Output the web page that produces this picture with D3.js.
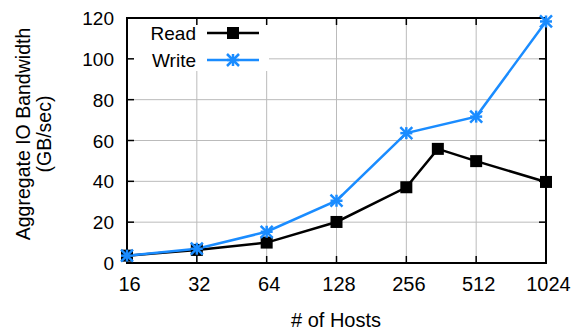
<!DOCTYPE html>
<html><head><meta charset="utf-8">
<script src="https://cdn.jsdelivr.net/npm/d3@7"></script>
<style>body{margin:0;background:#fff}svg{display:block;font-family:"Liberation Sans",Arial,sans-serif}</style>
</head><body><svg id="c" width="574" height="331"></svg>
<script>
const hosts = [16, 32, 64, 128, 256, 512, 1024];
const readHosts = [16, 32, 64, 128, 256, 350, 512, 1024];
const readValues = [3.6, 6.4, 10.0, 20.1, 37.1, 55.9, 49.9, 39.7];
const writeHosts = [16, 32, 64, 128, 256, 512, 1024];
const writeValues = [3.6, 7.0, 15.3, 30.5, 63.6, 71.7, 118.3];
const yTicks = [0, 20, 40, 60, 80, 100, 120];
const seriesNames = ["Read", "Write"];

const svg = d3.select("#c");
const L = 127, R = 546, T = 18, B = 263;
const x = d3.scaleLog().base(2).domain([16, 1024]).range([L, R]);
const y = d3.scaleLinear().domain([0, 120]).range([B, T]);
const blue = "#1a8cff";
const FS = 19;

// grid
const g = svg.append("g");
g.selectAll(".vg").data(hosts.slice(1, -1)).enter().append("line")
  .attr("x1", d => x(d)).attr("x2", d => x(d)).attr("y1", T).attr("y2", B)
  .attr("stroke", "#bbb").attr("stroke-width", 1);
g.selectAll(".hg").data(yTicks.slice(1, -1)).enter().append("line")
  .attr("x1", L).attr("x2", R).attr("y1", d => y(d)).attr("y2", d => y(d))
  .attr("stroke", "#bbb").attr("stroke-width", 1);

// legend background
svg.append("rect").attr("x", L + 1).attr("y", T + 1).attr("width", 141).attr("height", 52).attr("fill", "#fff");

// ticks inward
const tk = svg.append("g").attr("stroke", "#000").attr("stroke-width", 1.5);
hosts.forEach(h => {
  tk.append("line").attr("x1", x(h)).attr("x2", x(h)).attr("y1", B).attr("y2", B - 7);
  tk.append("line").attr("x1", x(h)).attr("x2", x(h)).attr("y1", T).attr("y2", T + 7);
});
yTicks.forEach(v => {
  tk.append("line").attr("x1", L).attr("x2", L + 7).attr("y1", y(v)).attr("y2", y(v));
  tk.append("line").attr("x1", R).attr("x2", R - 7).attr("y1", y(v)).attr("y2", y(v));
});

// frame
svg.append("rect").attr("x", L).attr("y", T).attr("width", R - L).attr("height", B - T)
  .attr("fill", "none").attr("stroke", "#000").attr("stroke-width", 2);

// tick labels
svg.selectAll(".xl").data(hosts).enter().append("text")
  .attr("x", d => x(d) + 2.5).attr("y", 291).attr("text-anchor", "middle")
  .attr("font-size", 20).text(d => d);
svg.selectAll(".yl").data(yTicks).enter().append("text")
  .attr("x", 114).attr("y", d => y(d) + 7).attr("text-anchor", "end")
  .attr("font-size", FS).text(d => d);

// axis titles
svg.append("text").attr("x", 336).attr("y", 327).attr("text-anchor", "middle")
  .attr("font-size", 20).text("# of Hosts");
const yt = svg.append("text").attr("transform", `translate(30,134) rotate(-90)`)
  .attr("text-anchor", "middle").attr("font-size", FS + 0.5);
yt.append("tspan").attr("x", 0).attr("dy", 0).text("Aggregate IO Bandwidth");
yt.append("tspan").attr("x", 0).attr("dy", 21).text("(GB/sec)");

// lines
const readData = readHosts.map((h, i) => [h, readValues[i]]);
const writeData = writeHosts.map((h, i) => [h, writeValues[i]]);
const line = d3.line().x(d => x(d[0])).y(d => y(d[1]));
svg.append("path").attr("d", line(readData)).attr("fill", "none").attr("stroke", "#000").attr("stroke-width", 2.5);
svg.append("path").attr("d", line(writeData)).attr("fill", "none").attr("stroke", blue).attr("stroke-width", 2.5);

function square(sel, cx, cy) {
  sel.append("rect").attr("x", cx - 6).attr("y", cy - 6).attr("width", 12).attr("height", 12).attr("fill", "#000");
}
function star(sel, cx, cy) {
  const s = 6, gg = sel.append("g").attr("stroke", blue).attr("stroke-width", 2.5);
  gg.append("line").attr("x1", cx - s).attr("x2", cx + s).attr("y1", cy).attr("y2", cy);
  gg.append("line").attr("x1", cx).attr("x2", cx).attr("y1", cy - s).attr("y2", cy + s);
  gg.append("line").attr("x1", cx - s).attr("x2", cx + s).attr("y1", cy - s).attr("y2", cy + s);
  gg.append("line").attr("x1", cx - s).attr("x2", cx + s).attr("y1", cy + s).attr("y2", cy - s);
}
readData.forEach(d => square(svg, x(d[0]), y(d[1])));
writeData.forEach(d => star(svg, x(d[0]), y(d[1])));

// legend
const ly = [33, 60];
seriesNames.forEach((n, i) => {
  svg.append("text").attr("x", 196).attr("y", ly[i] + 7).attr("text-anchor", "end").attr("font-size", FS).text(n);
  svg.append("line").attr("x1", 207).attr("x2", 259).attr("y1", ly[i]).attr("y2", ly[i])
    .attr("stroke", i ? blue : "#000").attr("stroke-width", 2.5);
  if (i === 0) square(svg, 233, ly[i]); else star(svg, 233, ly[i]);
});
</script></body></html>
